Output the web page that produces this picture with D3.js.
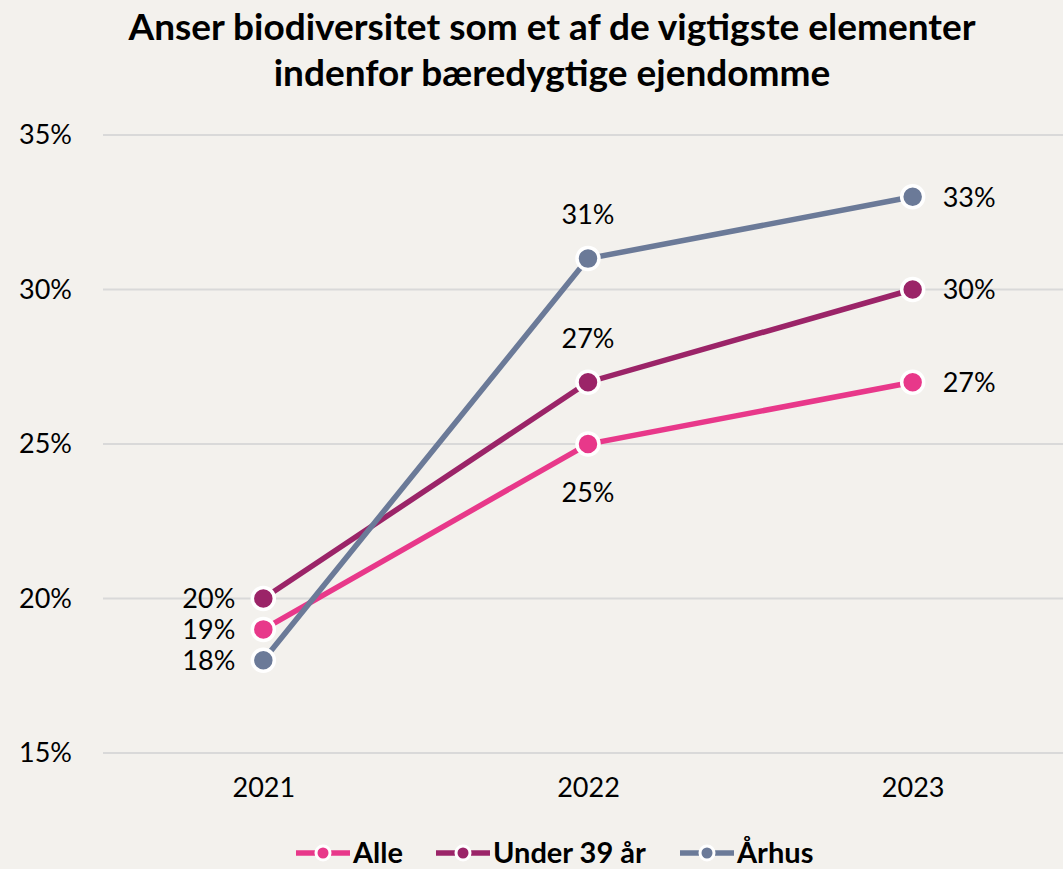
<!DOCTYPE html>
<html>
<head>
<meta charset="utf-8">
<script src="https://cdn.jsdelivr.net/npm/d3@7"></script>
<style>
  html, body { margin: 0; padding: 0; background: #f3f1ed; }
  svg { display: block; font-family: Lato, "Open Sans", sans-serif; }
</style>
</head>
<body>
<div id="chart"></div>
<script>
// Chart data
const years = ["2021", "2022", "2023"];
const seriesNames = ["Alle", "Under 39 år", "Århus"];
const alle = [19, 25, 27];
const under39 = [20, 27, 30];
const aarhus = [18, 31, 33];
const yTicks = [15, 20, 25, 30, 35];
const colors = ["#e8388a", "#9b2468", "#6b7a98"];
// where each value label sits relative to its point
const labelPos = [
    ["left", "below", "right"],
    ["left", "above", "right"],
    ["left", "above", "right"]
];

function createLineChart() {
    const width = 1063;
    const height = 869;

    const svg = d3.select("#chart").append("svg")
        .attr("width", width)
        .attr("height", height);

    svg.append("rect")
        .attr("width", width)
        .attr("height", height)
        .attr("fill", "#f3f1ed");

    const x = d3.scalePoint()
        .domain(years)
        .range([101, 1075])
        .padding(0.5);

    const y = d3.scaleLinear()
        .domain([15, 35])
        .range([753, 135]);

    // Title
    const title = svg.append("text")
        .attr("text-anchor", "middle")
        .style("font-size", "37px")
        .style("font-weight", "bold")
        .style("fill", "#000");
    title.append("tspan").attr("x", 552).attr("y", 40)
        .text("Anser biodiversitet som et af de vigtigste elementer");
    title.append("tspan").attr("x", 552).attr("y", 86)
        .text("indenfor bæredygtige ejendomme");

    // Gridlines
    svg.append("g")
        .selectAll("line")
        .data(yTicks)
        .enter().append("line")
        .attr("x1", 103)
        .attr("x2", width)
        .attr("y1", d => y(d))
        .attr("y2", d => y(d))
        .style("stroke", "#d9d9d9")
        .style("stroke-width", 2);

    // Y axis labels
    const yAxis = svg.append("g")
        .attr("transform", "translate(72,0)")
        .call(d3.axisLeft(y).tickValues(yTicks).tickSize(0).tickPadding(0)
            .tickFormat(d => d + "%"));
    yAxis.select(".domain").remove();
    yAxis.selectAll("text")
        .style("font-family", "Lato, sans-serif")
        .style("font-size", "27px")
        .style("fill", "#000");

    // X axis labels
    const xAxis = svg.append("g")
        .attr("transform", "translate(0,778)")
        .call(d3.axisBottom(x).tickSize(0).tickPadding(0));
    xAxis.select(".domain").remove();
    xAxis.selectAll("text")
        .attr("dy", "0.71em")
        .style("font-family", "Lato, sans-serif")
        .style("font-size", "27px")
        .style("fill", "#000");

    const series = [alle, under39, aarhus].map((values, i) => ({
        name: seriesNames[i],
        color: colors[i],
        values: values.map((v, j) => ({ year: years[j], value: v, pos: labelPos[i][j] }))
    }));

    const line = d3.line()
        .x(d => x(d.year))
        .y(d => y(d.value));

    const groups = svg.append("g")
        .selectAll(".series")
        .data(series)
        .enter().append("g")
        .attr("class", "series");

    groups.append("path")
        .attr("d", d => line(d.values))
        .style("fill", "none")
        .style("stroke", d => d.color)
        .style("stroke-width", 5.5);

    // Markers drawn after all lines
    const markers = svg.append("g")
        .selectAll(".markers")
        .data(series)
        .enter().append("g");

    markers.selectAll("circle")
        .data(d => d.values.map(v => ({ ...v, color: d.color })))
        .enter().append("circle")
        .attr("cx", d => x(d.year))
        .attr("cy", d => y(d.value))
        .attr("r", 11)
        .style("fill", d => d.color)
        .style("stroke", "#fff")
        .style("stroke-width", 3.5);

    // Value labels
    markers.selectAll("text")
        .data(d => d.values)
        .enter().append("text")
        .attr("x", d => {
            if (d.pos === "left") return x(d.year) - 28;
            if (d.pos === "right") return x(d.year) + 30;
            return x(d.year);
        })
        .attr("y", d => {
            if (d.pos === "above") return y(d.value) - 44;
            if (d.pos === "below") return y(d.value) + 48;
            return y(d.value);
        })
        .attr("dy", "0.36em")
        .attr("text-anchor", d => d.pos === "left" ? "end" : d.pos === "right" ? "start" : "middle")
        .style("font-size", "27px")
        .style("fill", "#000")
        .text(d => d.value + "%");

    // Legend
    const legendX = [296, 436, 680];
    const legend = svg.append("g")
        .selectAll(".legend-item")
        .data(series)
        .enter().append("g")
        .attr("class", "legend-item")
        .attr("transform", (d, i) => `translate(${legendX[i]}, 853)`);

    legend.append("line")
        .attr("x1", 0)
        .attr("x2", 54)
        .style("stroke", d => d.color)
        .style("stroke-width", 5.5);

    legend.append("circle")
        .attr("cx", 27)
        .attr("r", 7)
        .style("fill", d => d.color)
        .style("stroke", "#fff")
        .style("stroke-width", 3);

    legend.append("text")
        .attr("x", 57)
        .attr("dy", "0.36em")
        .style("font-size", "29px")
        .style("font-weight", "bold")
        .style("fill", "#000")
        .text(d => d.name);
}

createLineChart();
</script>
</body>
</html>
